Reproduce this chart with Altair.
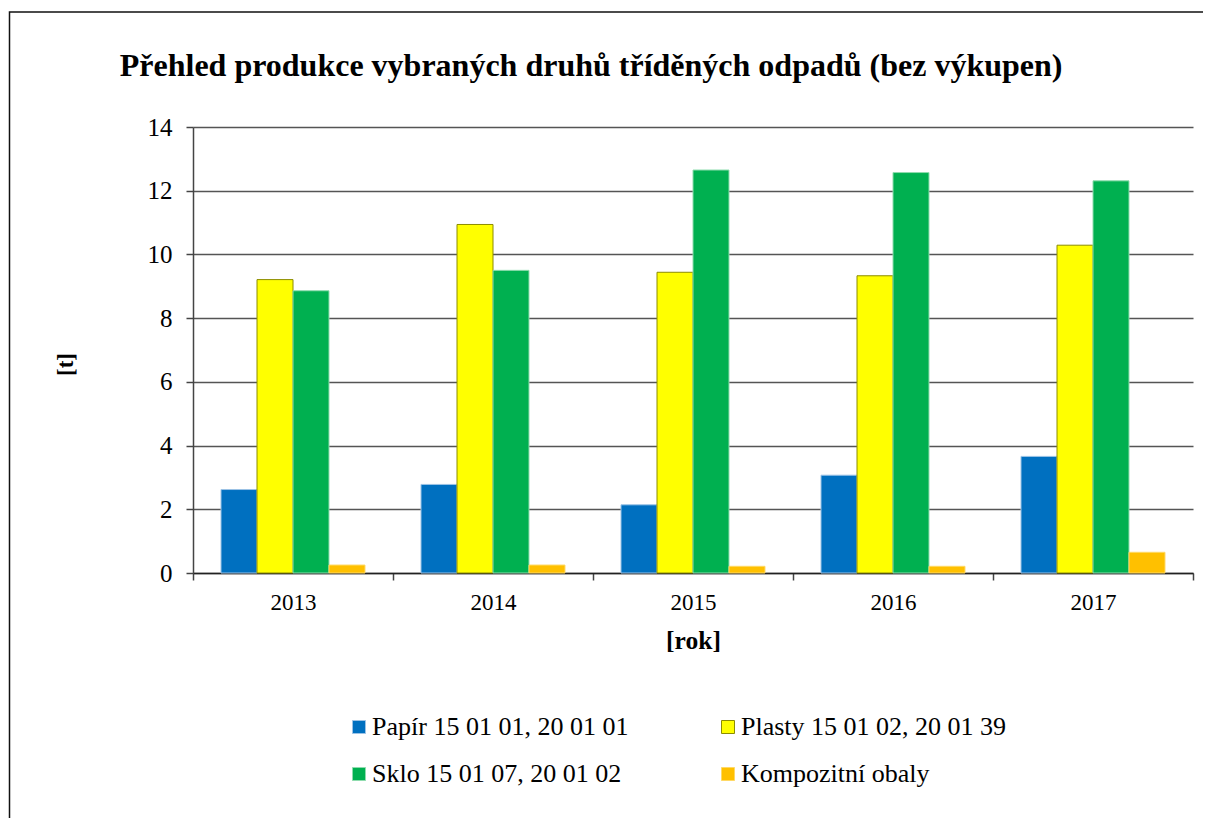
import altair as alt
import pandas as pd

years = ["2013", "2014", "2015", "2016", "2017"]
series = ["Papír 15 01 01, 20 01 01", "Plasty 15 01 02, 20 01 39",
          "Sklo 15 01 07, 20 01 02", "Kompozitní obaly"]
papir = [2.62, 2.78, 2.14, 3.07, 3.66]
plasty = [9.21, 10.94, 9.44, 9.33, 10.29]
sklo = [8.86, 9.50, 12.65, 12.57, 12.31]
kompozit = [0.25, 0.25, 0.21, 0.21, 0.65]
fills = ["#0070C0", "#FFFF00", "#00B050", "#FFC000"]
strokes = ["#9CC3E6", "#8C8C00", "#8FDCAE", "#FFD966"]

rows = []
for s, vals in zip(series, [papir, plasty, sklo, kompozit]):
    for y, v in zip(years, vals):
        rows.append({"rok": y, "druh": s, "t": v})
df = pd.DataFrame(rows)

FONT = "'Liberation Serif', 'Times New Roman', serif"

bars = alt.Chart(df).mark_bar(strokeWidth=1).encode(
    x=alt.X("rok:N", sort=years,
            scale=alt.Scale(paddingInner=0, paddingOuter=0),
            axis=alt.Axis(title="[rok]", labelAngle=0, tickBand="extent", grid=False,
                          labelFont=FONT, labelFontSize=23, labelColor="#000",
                          labelPadding=11, tickSize=7, tickColor="#444",
                          tickWidth=1.5, domainColor="#222", domainWidth=1.5,
                          titleFont=FONT, titleFontSize=25.5, titleFontWeight="bold",
                          titleColor="#000", titleX=500, titleY=67,
                          titleBaseline="middle", titleAlign="center")),
    xOffset=alt.XOffset("druh:N", sort=series,
                        scale=alt.Scale(paddingInner=0, paddingOuter=0.778)),
    y=alt.Y("t:Q", scale=alt.Scale(domain=[0, 14]),
            axis=alt.Axis(title="[t]", values=[0, 2, 4, 6, 8, 10, 12, 14], grid=True,
                          labelFont=FONT, labelFontSize=25, labelColor="#000",
                          labelPadding=14, tickSize=7, tickColor="#444",
                          tickWidth=1.5, domainColor="#444", domainWidth=1.5,
                          gridColor="#555", gridWidth=1.5,
                          titleFont=FONT, titleFontSize=23, titleFontWeight="bold",
                          titleColor="#000", titleX=-128, titleY=237,
                          titleBaseline="middle", titleAlign="center", titleAngle=270)),
    color=alt.Color("druh:N", sort=series,
                    scale=alt.Scale(domain=series, range=fills),
                    legend=alt.Legend(title=None, orient="none", legendX=153, legendY=587,
                                      columns=2, direction="horizontal",
                                      columnPadding=86, rowPadding=21,
                                      symbolType="square", symbolSize=169,
                                      symbolStrokeWidth=1,
                                      labelFont=FONT, labelFontSize=26, labelColor="#000",
                                      labelOffset=0, labelLimit=500)),
    stroke=alt.Stroke("druh:N", sort=series,
                      scale=alt.Scale(domain=series, range=strokes),
                      legend=None),
)

frame = alt.Chart(pd.DataFrame({"a": [0]})).mark_rect(
    fill=None, stroke="#111", strokeWidth=1.5
).encode(x=alt.value(-183.5), x2=alt.value(1040), y=alt.value(-115), y2=alt.value(720))

chart = alt.layer(frame, bars).properties(
    width=1000, height=446,
    title=alt.TitleParams(
        "Přehled produkce vybraných druhů tříděných odpadů (bez výkupen)",
        font=FONT, fontSize=32, fontWeight="bold", color="#000",
        anchor="start", dx=111, dy=72, offset=0),
    autosize=alt.AutoSizeParams(type="none"),
    padding={"left": 185, "top": 119, "right": 10, "bottom": 245},
).configure_view(stroke=None)

chart.save("out.html", embed_options={"renderer": "svg", "actions": False})
